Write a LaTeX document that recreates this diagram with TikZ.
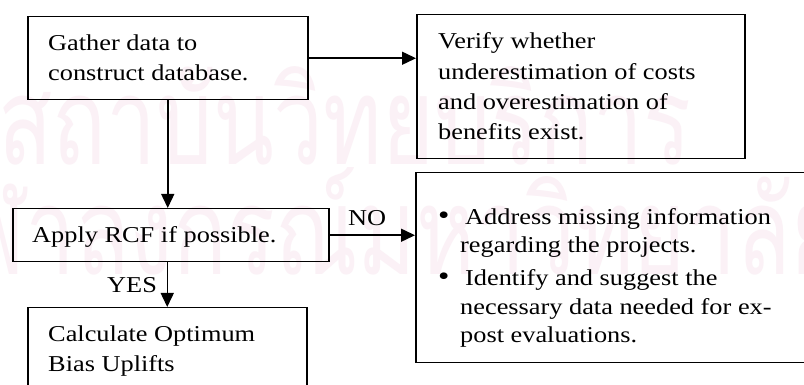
\documentclass[tikz,border=0pt]{standalone}
\usepackage{fontspec}
\setmainfont{Liberation Serif}[FakeStretch=1.16]
\newfontfamily\thaifont[Script=Thai,FakeStretch=0.73]{Loma}
\usetikzlibrary{arrows.meta}
\definecolor{wmark}{RGB}{251,241,246}
\tikzset{
  box/.style={draw, line width=1.5pt, inner sep=0pt, anchor=north west},
  txt/.style={anchor=base west, inner sep=0pt, align=left,
              font=\fontsize{22.7}{30}\selectfont},
  bullet/.style={txt, font=\fontsize{28}{30}\selectfont},
  flow/.style={line width=1.5pt, -{Triangle[length=14pt,width=13pt]}},
  wm/.style={anchor=base west, inner sep=0pt, text=wmark,
             font=\thaifont\fontsize{122}{122}\selectfont}
}
\begin{document}
\begin{tikzpicture}[x=1pt,y=1pt]
\useasboundingbox (0,0) rectangle (804,385);
\fill[white] (0,0) rectangle (804,385);

% faint background lettering
\node[wm] (wmA) at (-2,220) {สถาบันวิทยบริการ};
\node[wm] (wmB) at (-88,110) {จุฬาลงกรณ์มหาวิทยาลัย};

% boxes
\node[box, minimum width=280pt, minimum height=83pt]  (gather)  at (27,369) {};
\node[box, minimum width=328pt, minimum height=144pt] (verify)  at (416,371) {};
\node[box, minimum width=316pt, minimum height=53pt]  (apply)   at (12,177) {};
\node[box, minimum width=279pt, minimum height=90pt]  (calc)    at (27,78) {};
\node[box, minimum width=400pt, minimum height=190pt] (missing) at (415,213) {};

% box texts
\node[txt] (tGather) at (48,334) {Gather data to};
\node[txt] (tGather2) at (48,304) {construct database.};
\node[txt] (tVerify1) at (438,336) {Verify whether};
\node[txt] (tVerify2) at (438,305) {underestimation of costs};
\node[txt] (tVerify3) at (438,275) {and overestimation of};
\node[txt] (tVerify4) at (438,245) {benefits exist.};
\node[txt] (tApply) at (32,142) {Apply RCF if possible.};
\node[txt] (tCalc1) at (48,43) {Calculate Optimum};
\node[txt] (tCalc2) at (48,13) {Bias Uplifts};

\node[bullet] (b1) at (438,160) {•};
\node[txt] (tMiss1) at (465,160) {Address missing information};
\node[txt] (tMiss2) at (460,132) {regarding the projects.};
\node[bullet] (b2) at (438,99) {•};
\node[txt] (tMiss3) at (465,99) {Identify and suggest the};
\node[txt] (tMiss4) at (460,70) {necessary data needed for ex-};
\node[txt] (tMiss5) at (460,42) {post evaluations.};

% connector labels
\node[txt] (lNo) at (348,159) {NO};
\node[txt] (lYes) at (107,92) {YES};

% connectors
\draw[flow] (gather.east) -- (gather.east -| verify.west);
\draw[flow] (gather.south) -- (gather.south |- apply.north);
\draw[flow] (apply.south -| calc.north) -- (calc.north);
\draw[flow] (apply.east) -- (apply.east -| missing.west);
\end{tikzpicture}
\end{document}
